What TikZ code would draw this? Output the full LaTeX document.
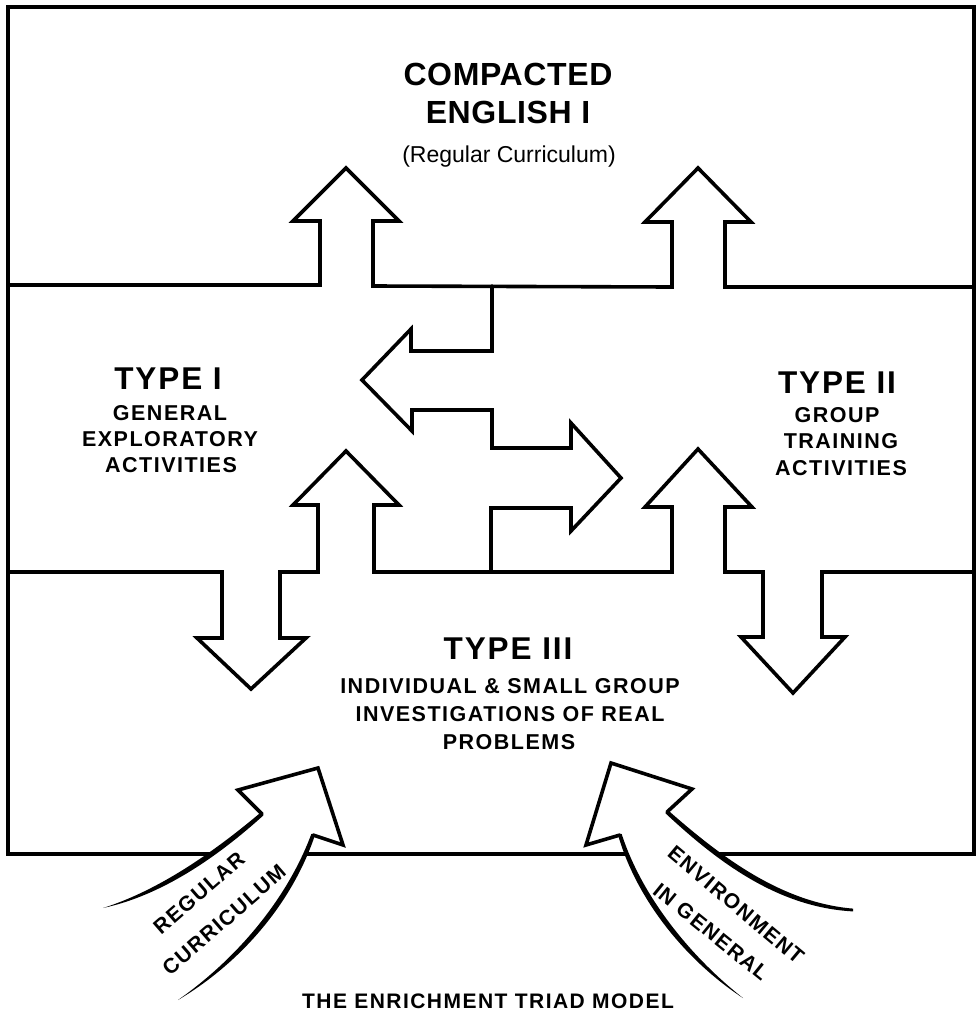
\documentclass[tikz,border=0pt]{standalone}
\usepackage{fontspec}
\setmainfont{Liberation Sans}
\newfontfamily\headfont[LetterSpace=2]{Liberation Sans}
\newfontfamily\typefont[LetterSpace=6]{Liberation Sans}
\newfontfamily\capsfont[LetterSpace=7]{Liberation Sans}
\begin{document}
\begin{tikzpicture}[x=1pt,y=-1pt,
  outline/.style={line width=3.6pt, line join=miter, line cap=round},
  headline/.style={font={\headfont\bfseries\fontsize{32}{36}\selectfont}, anchor=base, inner sep=0pt},
  plainline/.style={font={\fontsize{23}{26}\selectfont}, anchor=base, inner sep=0pt},
  typehead/.style={font={\typefont\bfseries\fontsize{31.5}{36}\selectfont}, anchor=base, inner sep=0pt},
  capsline/.style={font={\capsfont\bfseries\fontsize{21.5}{26}\selectfont}, anchor=base, inner sep=0pt},
  bandlabel/.style={font={\capsfont\bfseries\fontsize{21}{26}\selectfont}, inner sep=0pt}
]
\useasboundingbox (0,0) rectangle (977,1017);

% outer frame, with a heavier base line
\draw[outline] (8,7) rectangle (974,854);
\draw[line width=4.6pt] (8,854) -- (974,854);

% upper divider with the two arrows rising into the compacted curriculum
\draw[outline] (8,285) -- (320,285) -- (320,221) -- (293,221) -- (346,168)
  -- (399,221) -- (373,221) -- (373,286) -- (672,287) -- (672,222)
  -- (645,222) -- (698,168) -- (751,222) -- (725,222) -- (725,287) -- (974,287);

% exchange arrows between Type I and Type II
\draw[outline] (492,286) -- (492,351) -- (411,351) -- (411,329) -- (362,380)
  -- (412,431) -- (412,410) -- (492,410) -- (492,448) -- (571,448)
  -- (571,423) -- (621,478) -- (571,531) -- (571,508) -- (491,508) -- (491,572);

% lower divider with the double arrows to and from Type III
\draw[outline] (8,572) -- (222,572) -- (222,638) -- (197,638) -- (251,689)
  -- (306,638) -- (280,638) -- (280,572) -- (318,572) -- (318,505)
  -- (293,505) -- (346,451) -- (399,505) -- (374,505) -- (374,572)
  -- (672,572) -- (672,507) -- (645,507) -- (698,449) -- (752,507)
  -- (725,507) -- (725,572) -- (763,572) -- (763,637) -- (741,637)
  -- (793,693) -- (845,637) -- (822,637) -- (822,572) -- (974,572);

% curved arrow: regular curriculum (tapered tail strokes)
\fill[white] (103,908) .. controls (160,893) and (215,855) .. (262,814)
  -- (238,790) -- (318,768) -- (343,845) -- (313,835)
  .. controls (290,900) and (240,960) .. (178,1000) -- cycle;
\draw[outline] (262,814) -- (238,790) -- (318,768) -- (343,845) -- (313,835);
\fill (103,908) .. controls (158.2,890.6) and (213.2,852.6) .. (260.8,812.4)
  -- (263.2,815.6) .. controls (216.8,857.4) and (161.8,895.4) .. (103,908) -- cycle;
\fill (311.4,833.8) .. controls (287.6,898.2) and (237.6,958.2) .. (178,1000)
  .. controls (242.4,961.8) and (292.4,901.8) .. (314.6,836.2) -- cycle;

% curved arrow: environment in general (tapered tail strokes)
\fill[white] (743,998) .. controls (690,960) and (640,900) .. (620,835)
  -- (586,845) -- (611,763) -- (692,789) -- (667,812)
  .. controls (720,860) and (780,905) .. (853,910) -- cycle;
\draw[outline] (620,835) -- (586,845) -- (611,763) -- (692,789) -- (667,812);
\fill (621.6,833.8) .. controls (642.4,898.2) and (692.4,958.2) .. (743,998)
  .. controls (687.6,961.8) and (637.6,901.8) .. (618.4,836.2) -- cycle;
\fill (668.3,810.5) .. controls (721.8,857.6) and (781.8,902.6) .. (853,908.6)
  -- (853,911.4) .. controls (778.2,907.4) and (718.2,862.4) .. (665.7,813.5) -- cycle;

% compacted curriculum
\node[headline] (compacted) at (508,85) {COMPACTED};
\node[headline] (english) at (508,123) {ENGLISH I};
\node[plainline] (regular) at (509,162) {(Regular Curriculum)};

% Type I
\node[typehead] (typeI) at (168,389) {TYPE I};
\node[capsline] (typeIa) at (170,420) {GENERAL};
\node[capsline] (typeIb) at (170,446) {EXPLORATORY};
\node[capsline] (typeIc) at (171,472) {ACTIVITIES};

% Type II
\node[typehead] (typeII) at (837,393) {TYPE II};
\node[capsline] (typeIIa) at (837,422) {GROUP};
\node[capsline] (typeIIb) at (841,448) {TRAINING};
\node[capsline] (typeIIc) at (841,475) {ACTIVITIES};

% Type III
\node[typehead] (typeIII) at (508,659) {TYPE III};
\node[capsline] (typeIIIa) at (510,693) {INDIVIDUAL \& SMALL GROUP};
\node[capsline] (typeIIIb) at (510,721) {INVESTIGATIONS OF REAL};
\node[capsline] (typeIIIc) at (509,749) {PROBLEMS};

% labels on the curved arrows
\node[bandlabel, rotate=41] (regA) at (199,893) {REGULAR};
\node[bandlabel, rotate=41] (regB) at (224,920) {CURRICULUM};
\node[bandlabel, rotate=-40] (envA) at (736,905) {ENVIRONMENT};
\node[bandlabel, rotate=-39] (envB) at (711,932) {IN GENERAL};

% caption
\node[capsline, font={\capsfont\bfseries\fontsize{21}{24}\selectfont}] (caption) at (488,1008) {THE ENRICHMENT TRIAD MODEL};
\end{tikzpicture}
\end{document}
